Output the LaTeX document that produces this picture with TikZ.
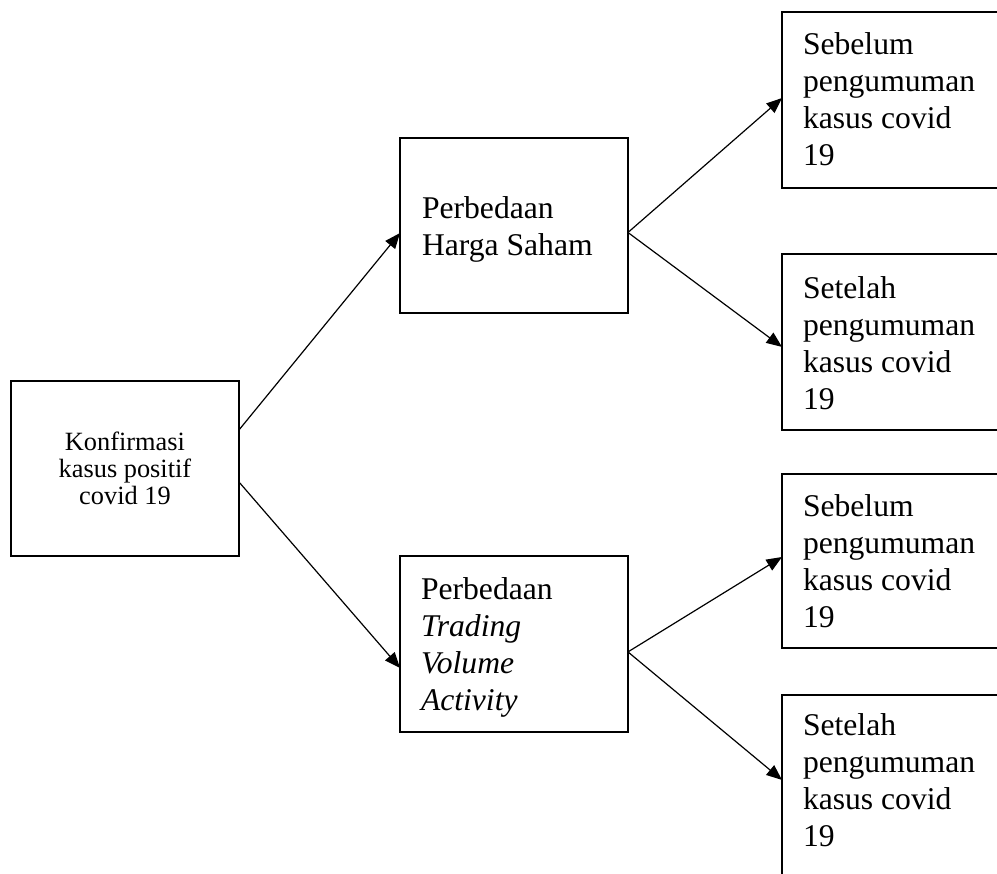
\documentclass[tikz,border=0pt]{standalone}
\usepackage{fontspec}
\setmainfont{Liberation Serif}
\usetikzlibrary{arrows.meta,calc}
\begin{document}
\begin{tikzpicture}[x=0.02cm,y=-0.02cm,
  box/.style={draw,line width=0.05cm,inner sep=0,outer sep=0,anchor=north west},
  txt/.style={inner sep=0,outer sep=0,anchor=north west,align=left,font=\fontsize{18pt}{21pt}\selectfont},
  arr/.style={line width=0.024cm,-{Triangle[length=0.31cm,width=0.25cm]}}]
\clip (0,0) rectangle (997,873);
% boxes
\node[box,minimum width=4.56cm,minimum height=3.5cm] (b1) at (11,381) {};
\node[box,minimum width=4.56cm,minimum height=3.5cm] (b2) at (400,138) {};
\node[box,minimum width=4.56cm,minimum height=3.52cm] (b3) at (400,556) {};
\node[box,minimum width=4.6cm,minimum height=3.52cm] (r1) at (782,12) {};
\node[box,minimum width=4.6cm,minimum height=3.52cm] (r2) at (782,254) {};
\node[box,minimum width=4.6cm,minimum height=3.48cm] (r3) at (782,474) {};
\node[box,minimum width=4.6cm,minimum height=3.8cm] (r4) at (782,695) {};
% texts
\node[inner sep=0,outer sep=0,align=center,font=\fontsize{15pt}{15.4pt}\selectfont] (t1) at (b1.center) {Konfirmasi\\kasus positif\\covid 19};
\node[txt] (t2) at ($(b2.north west)+(22,59)$) {Perbedaan\\Harga Saham};
\node[txt] (t3) at ($(b3.north west)+(21,22)$) {Perbedaan\\\textit{Trading}\\\textit{Volume}\\\textit{Activity}};
\node[txt] (t4) at ($(r1.north west)+(21,21)$) {Sebelum\\pengumuman\\kasus covid\\19};
\node[txt] (t5) at ($(r2.north west)+(21,23)$) {Setelah\\pengumuman\\kasus covid\\19};
\node[txt] (t6) at ($(r3.north west)+(21,21)$) {Sebelum\\pengumuman\\kasus covid\\19};
\node[txt] (t7) at ($(r4.north west)+(21,19)$) {Setelah\\pengumuman\\kasus covid\\19};
% connectors
\draw[arr] ($(b1.north east)!0.28!(b1.south east)$) -- ($(b2.north west)!0.543!(b2.south west)$);
\draw[arr] ($(b1.north east)!0.577!(b1.south east)$) -- ($(b3.north west)!0.636!(b3.south west)$);
\coordinate (s2) at ($(b2.north east)!0.54!(b2.south east)$);
\coordinate (s3) at ($(b3.north east)!0.545!(b3.south east)$);
\draw[arr] (s2) -- ($(r1.north west)!0.489!(r1.south west)$);
\draw[arr] (s2) -- ($(r2.north west)!0.528!(r2.south west)$);
\draw[arr] (s3) -- ($(r3.north west)!0.477!(r3.south west)$);
\draw[arr] (s3) -- ($(r4.north west)!0.447!(r4.south west)$);
\end{tikzpicture}
\end{document}
